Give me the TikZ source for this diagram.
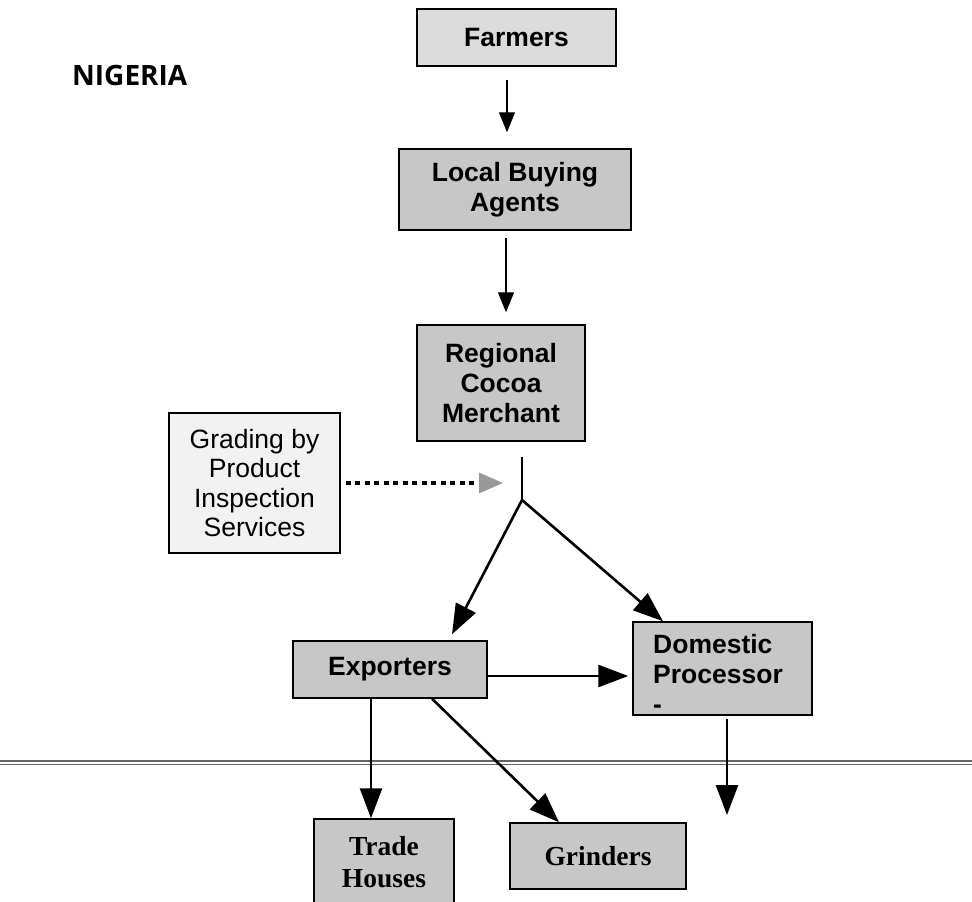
\documentclass[tikz,border=0pt]{standalone}
\usepackage{fontspec}
\setmainfont{Liberation Sans}
\newfontfamily\tnrfont{Liberation Serif}
\newfontfamily\opsfont{Open Sans}
\usetikzlibrary{arrows.meta,calc}
\definecolor{boxgray}{gray}{0.78}
\definecolor{farmgray}{gray}{0.86}
\definecolor{gradegray}{gray}{0.95}
\definecolor{linegray}{gray}{0.40}
\begin{document}
\begin{tikzpicture}[x=1pt,y=-1pt,
  box/.style={draw=black, line width=1.5pt, fill=boxgray, inner sep=0pt},
  bf/.style={font=\fontsize{26.5}{30}\selectfont\bfseries},
  tbf/.style={font=\tnrfont\fontsize{27.5}{32}\selectfont\bfseries},
  thinarr/.style={line width=1.3pt, -{Triangle[length=20pt,width=16pt]}},
  thickarr/.style={line width=2.6pt, -{Triangle[length=30pt,width=22pt]}},
  dotarr/.style={line width=3.5pt, dash pattern=on 5pt off 4.5pt,
    -{Triangle[length=24pt,width=20pt,fill=gray!80,color=gray!80]}},
]
\useasboundingbox (0,0) rectangle (972,902);
\clip (0,0) rectangle (972,902);

% title
\node[font=\opsfont\bfseries\fontsize{28}{30}\selectfont, anchor=base west, inner sep=0pt] (title) at (72,85) {NIGERIA};

% boxes
\node[box, fill=farmgray, minimum width=199pt, minimum height=57pt, bf] (farm) at (516.5,37.5) {Farmers};
\node[box, minimum width=232pt, minimum height=81pt, bf, align=center] (local) at (515,189.5) {Local Buying\\Agents};
\node[box, minimum width=168pt, minimum height=116pt, bf, align=center] (reg) at (501,383) {Regional\\Cocoa\\Merchant};
\node[box, fill=gradegray, line width=1.2pt, minimum width=171pt, minimum height=140pt,
  font=\fontsize{26.5}{29.5}\selectfont, align=center] (grade) at (254.5,483) {Grading by\\Product\\Inspection\\Services};
\node[box, minimum width=194pt, minimum height=57pt, bf] (exp) at (390,669.5) {Exporters};
\node[box, minimum width=179pt, minimum height=93pt] (dom) at (722.5,668.5) {};
\node[bf, align=left, anchor=north west, inner sep=0pt] (domtxt) at (653,634) {Domestic\\Processor\\-};
\node[box, minimum width=140pt, minimum height=121pt] (trade) at (384,879.5) {};
\node[tbf, align=center, inner sep=0pt] (tradetxt) at (384,862) {Trade\\Houses};
\node[box, minimum width=176pt, minimum height=66pt, tbf] (grind) at (598,856) {Grinders};

% border line
\coordinate (hl) at (0,762.5);
\coordinate (hr) at (972,762.5);
\draw[draw=linegray, line width=1.2pt, double=white, double distance=2pt] (hl) -- (hr);

% connectors
\draw[thinarr] ($(farm.south)+(-9.5,13)$) -- ($(local.north)+(-8,-16)$);
\draw[thinarr] ($(local.south)+(-9,7)$) -- ($(reg.north)+(5,-12)$);

\coordinate (jtop) at (522,457);
\coordinate (junc) at (522,500);
\draw[line width=2pt] (jtop) -- (junc);
\draw[thickarr] (junc) -- ($(exp.north)+(62,-6)$);
\draw[thickarr] (junc) -- ($(dom.north)+(-59.5,0)$);
\draw[dotarr] ($(grade.east)+(5,0)$) -- ($(junc)+(-19,-17)$);

\draw[thickarr] ($(exp.east)+(0,6.5)$) -- ($(dom.west)+(-4,7.5)$);
\draw[thickarr] ($(exp.south)+(-19,0)$) -- ($(trade.north)+(-13,0)$);
\draw[thickarr] ($(exp.south)+(42,0)$) -- ($(grind.north)+(-39,0)$);
\coordinate (domend) at (727,815);
\draw[thickarr] ($(dom.south)+(4.5,3)$) -- (domend);
\end{tikzpicture}
\end{document}
